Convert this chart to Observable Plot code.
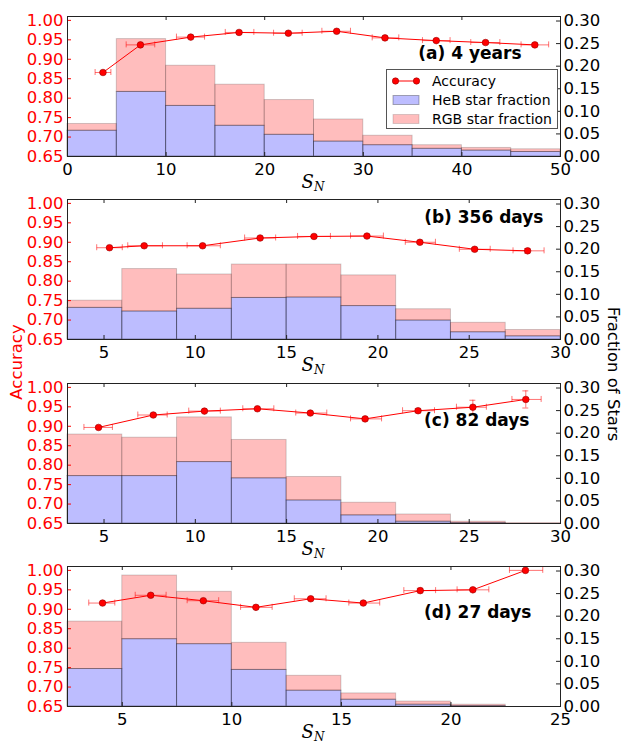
<!DOCTYPE html>
<html><head><meta charset="utf-8">
<script src="https://cdn.jsdelivr.net/npm/d3@7"></script>
<script src="https://cdn.jsdelivr.net/npm/@observablehq/plot@0.6"></script>
<style>
body{margin:0;background:#fff;}
#wrap{position:relative;width:624px;height:743px;font-family:"DejaVu Sans",sans-serif;overflow:hidden;}
#wrap svg.plotsvg{position:absolute;left:0;overflow:visible;}
.sn{position:absolute;font-family:"DejaVu Serif",serif;font-style:italic;font-size:18px;line-height:20px;transform:translate(-50%,-50%);white-space:nowrap;}
.sn sub{font-size:12px;line-height:12px;vertical-align:-3px;}
.rot{position:absolute;font-size:16.5px;white-space:nowrap;transform-origin:center center;}
#legend{position:absolute;left:386px;top:69px;width:172px;height:60px;border:1px solid #555;background:#fff;box-sizing:border-box;font-size:14px;}
#legend .row{position:absolute;left:5px;height:19px;display:flex;align-items:center;}
#legend .row span{margin-left:12px;}
</style></head><body><div id="wrap"></div>
<script>
// ---------- data ----------
const panelLabels = ["(a) 4 years", "(b) 356 days", "(c) 82 days", "(d) 27 days"];
const xDomains = [[0, 50], [3, 30], [3, 30], [2.5, 25]];
const xTicks = [[0, 10, 20, 30, 40, 50], [5, 10, 15, 20, 25, 30], [5, 10, 15, 20, 25, 30], [5, 10, 15, 20, 25]];
const binWidths = [5, 3, 3, 2.5];
const accTicks = [0.65, 0.70, 0.75, 0.80, 0.85, 0.90, 0.95, 1.00];
const fracTicks = [0.00, 0.05, 0.10, 0.15, 0.20, 0.25, 0.30];

// (a) 4 years
const binStartA = [0, 5, 10, 15, 20, 25, 30, 35, 40, 45];
const hebA = [0.057, 0.143, 0.112, 0.068, 0.048, 0.033, 0.025, 0.017, 0.013, 0.010];
const rgbA = [0.015, 0.117, 0.089, 0.091, 0.077, 0.049, 0.021, 0.008, 0.006, 0.006];
const accXA = [3.6, 7.4, 12.5, 17.4, 22.4, 27.3, 32.2, 37.4, 42.4, 47.4];
const accA = [0.866, 0.937, 0.957, 0.969, 0.967, 0.972, 0.955, 0.948, 0.943, 0.937];
const accLoA = [2.8, 5.95, 11.05, 16.0, 20.9, 25.8, 30.9, 36.0, 40.9, 46.0];
const accHiA = [4.4, 8.85, 13.9, 18.9, 23.8, 28.7, 33.6, 38.8, 43.85, 48.8];
const accErrA = [0.002, 0.002, 0.002, 0.001, 0.001, 0.001, 0.002, 0.002, 0.003, 0.004];

// (b) 356 days
const binStartB = [3, 6, 9, 12, 15, 18, 21, 24, 27];
const hebB = [0.070, 0.062, 0.068, 0.092, 0.093, 0.074, 0.042, 0.016, 0.007];
const rgbB = [0.016, 0.094, 0.076, 0.074, 0.073, 0.068, 0.025, 0.021, 0.014];
const accXB = [5.3, 7.2, 10.4, 13.55, 16.5, 19.4, 22.3, 25.3, 28.2];
const accB = [0.886, 0.891, 0.891, 0.911, 0.915, 0.916, 0.900, 0.882, 0.878];
const accLoB = [4.6, 6.3, 9.55, 12.7, 15.6, 18.5, 21.5, 24.46, 27.4];
const accHiB = [6.0, 8.2, 11.37, 14.4, 17.4, 20.3, 23.15, 26.15, 29.1];
const accErrB = [0.002, 0.002, 0.002, 0.002, 0.002, 0.002, 0.003, 0.004, 0.006];

// (c) 82 days
const binStartC = [3, 6, 9, 12, 15, 18, 21, 24, 27];
const hebC = [0.105, 0.105, 0.136, 0.100, 0.051, 0.018, 0.004, 0.001, 0.000];
const rgbC = [0.092, 0.085, 0.099, 0.085, 0.052, 0.028, 0.016, 0.003, 0.001];
const accXC = [4.7, 7.7, 10.5, 13.4, 16.3, 19.3, 22.2, 25.2, 28.1];
const accC = [0.897, 0.929, 0.939, 0.945, 0.934, 0.919, 0.940, 0.949, 0.969];
const accLoC = [3.9, 6.85, 9.64, 12.6, 15.5, 18.5, 21.35, 24.3, 27.34];
const accHiC = [5.46, 8.46, 11.37, 14.3, 17.2, 20.2, 23.1, 25.94, 28.94];
const accErrC = [0.002, 0.003, 0.002, 0.002, 0.002, 0.003, 0.005, 0.018, 0.022];

// (d) 27 days
const binStartD = [2.5, 5, 7.5, 10, 12.5, 15, 17.5, 20, 22.5];
const hebD = [0.083, 0.149, 0.138, 0.081, 0.035, 0.015, 0.004, 0.001, 0.000];
const rgbD = [0.105, 0.141, 0.116, 0.060, 0.033, 0.014, 0.007, 0.003, 0.000];
const accXD = [4.1, 6.3, 8.7, 11.1, 13.6, 16.0, 18.6, 21.0, 23.4];
const accD = [0.916, 0.936, 0.922, 0.905, 0.927, 0.916, 0.948, 0.950, 1.000];
const accLoD = [3.47, 5.59, 7.96, 10.4, 12.85, 15.34, 17.85, 20.28, 22.67];
const accHiD = [4.66, 7.0, 9.4, 11.84, 14.3, 16.75, 19.3, 21.73, 24.19];
const accErrD = [0.002, 0.003, 0.002, 0.002, 0.002, 0.002, 0.006, 0.002, 0.002];

const panels = [
  {starts: binStartA, heb: hebA, rgb: rgbA, ax: accXA, acc: accA, lo: accLoA, hi: accHiA, err: accErrA},
  {starts: binStartB, heb: hebB, rgb: rgbB, ax: accXB, acc: accB, lo: accLoB, hi: accHiB, err: accErrB},
  {starts: binStartC, heb: hebC, rgb: rgbC, ax: accXC, acc: accC, lo: accLoC, hi: accHiC, err: accErrC},
  {starts: binStartD, heb: hebD, rgb: rgbD, ax: accXD, acc: accD, lo: accLoD, hi: accHiD, err: accErrD}
];

// ---------- layout ----------
const W = 624, ML = 67, MR = 64, MT = 16, FH = 140;
const PW = W - ML - MR;
const svgTops = [0, 183.3, 367.3, 550];
const svgHeights = [183, 184, 183, 193];
const labelOffsets = [[-39, 37], [-17, 18], [-31, 37], [-29, 46]];
const accDom = [0.65, 1.01], fracDom = [0, 0.31];
const toFrac = a => (a - accDom[0]) / (accDom[1] - accDom[0]) * (fracDom[1] - fracDom[0]);
const fromFrac = f => accDom[0] + f / (fracDom[1] - fracDom[0]) * (accDom[1] - accDom[0]);

const wrap = document.getElementById("wrap");

panels.forEach((p, k) => {
  const bw = binWidths[k];
  const xd = xDomains[k];
  const bins = p.starts.map((s, i) => ({x1: s, x2: s + bw, heb: p.heb[i], tot: p.heb[i] + p.rgb[i]}));
  const pts = p.ax.map((x, i) => ({
    x, y: toFrac(p.acc[i]), lo: p.lo[i], hi: p.hi[i],
    ylo: toFrac(p.acc[i] - p.err[i]), yhi: toFrac(p.acc[i] + p.err[i])
  }));
  const capY = 3 * (fracDom[1] - fracDom[0]) / FH;
  const capX = 3 * (xd[1] - xd[0]) / PW;
  const H = svgHeights[k];
  const errStyle = {stroke: "red", strokeOpacity: 0.55, strokeWidth: 1};
  const chart = Plot.plot({
    width: W, height: H,
    marginLeft: ML, marginRight: MR, marginTop: MT, marginBottom: H - MT - FH,
    x: {domain: xd},
    y: {domain: fracDom},
    style: {fontFamily: "DejaVu Sans", fontSize: "16.5px", background: "transparent", overflow: "visible"},
    marks: [
      Plot.rect(bins, {x1: "x1", x2: "x2", y1: 0, y2: "heb", fill: "blue", fillOpacity: 0.26, stroke: "black", strokeOpacity: 0.35}),
      Plot.rect(bins, {x1: "x1", x2: "x2", y1: "heb", y2: "tot", fill: "red", fillOpacity: 0.26, stroke: "black", strokeOpacity: 0.18}),
      Plot.link(pts, {x1: "lo", x2: "hi", y1: "y", y2: "y", ...errStyle}),
      Plot.ruleX(pts, {x: "lo", y1: d => d.y - capY, y2: d => d.y + capY, ...errStyle}),
      Plot.ruleX(pts, {x: "hi", y1: d => d.y - capY, y2: d => d.y + capY, ...errStyle}),
      Plot.ruleX(pts, {x: "x", y1: "ylo", y2: "yhi", ...errStyle}),
      Plot.ruleY(pts, {y: "ylo", x1: d => d.x - capX, x2: d => d.x + capX, ...errStyle}),
      Plot.ruleY(pts, {y: "yhi", x1: d => d.x - capX, x2: d => d.x + capX, ...errStyle}),
      Plot.line(pts, {x: "x", y: "y", stroke: "red", strokeWidth: 1}),
      Plot.dot(pts, {x: "x", y: "y", r: 3.3, fill: "red", stroke: "#900", strokeWidth: 0.6}),
      Plot.tickX(xTicks[k], {x: d => d, insetTop: FH - 4, stroke: "#222"}),
      Plot.tickX(xTicks[k], {x: d => d, insetBottom: FH - 4, stroke: "#222"}),
      Plot.tickY(accTicks.map(toFrac), {y: d => d, insetRight: PW - 4, stroke: "red"}),
      Plot.tickY(fracTicks, {y: d => d, insetLeft: PW - 4, stroke: "#222"}),
      Plot.frame({stroke: "#222", strokeWidth: 1}),
      Plot.axisX({ticks: xTicks[k], tickSize: 0, tickPadding: 7, tickFormat: d => String(d), label: null}),
      Plot.axisY({anchor: "left", ticks: accTicks.map(toFrac), tickSize: 0, tickPadding: 4, color: "red",
                  tickFormat: f => fromFrac(f).toFixed(2), label: null}),
      Plot.axisY({anchor: "right", ticks: fracTicks, tickSize: 0, tickPadding: 3,
                  tickFormat: d => d.toFixed(2), label: null}),
      Plot.text([panelLabels[k]], {text: d => d, frameAnchor: "top-right", textAnchor: "end", lineAnchor: "middle",
                  dx: labelOffsets[k][0], dy: labelOffsets[k][1], fontWeight: "bold", fontSize: 17, fill: "black"})
    ]
  });
  chart.classList.add("plotsvg");
  chart.style.top = svgTops[k] + "px";
  wrap.appendChild(chart);

  const sn = document.createElement("div");
  sn.className = "sn";
  sn.innerHTML = "S<sub>N</sub>";
  sn.style.left = (ML + PW / 2 - 0.5) + "px";
  sn.style.top = (svgTops[k] + MT + FH + 26) + "px";
  wrap.appendChild(sn);
});

// axis titles
const acc = document.createElement("div");
acc.className = "rot";
acc.textContent = "Accuracy";
acc.style.color = "red";
acc.style.left = "16px"; acc.style.top = "362px";
acc.style.transform = "translate(-50%,-50%) rotate(-90deg)";
wrap.appendChild(acc);

const fr = document.createElement("div");
fr.className = "rot";
fr.textContent = "Fraction of Stars";
fr.style.left = "613px"; fr.style.top = "374px";
fr.style.transform = "translate(-50%,-50%) rotate(90deg)";
wrap.appendChild(fr);

// legend (panel a)
const lg = document.createElement("div");
lg.id = "legend";
lg.innerHTML =
  '<div class="row" style="top:1px"><svg width="28" height="10"><line x1="3.5" y1="5" x2="24.5" y2="5" stroke="red" stroke-width="1"/><circle cx="3.5" cy="5" r="3.2" fill="red" stroke="#900" stroke-width="0.6"/><circle cx="24.5" cy="5" r="3.2" fill="red" stroke="#900" stroke-width="0.6"/></svg><span>Accuracy</span></div>' +
  '<div class="row" style="top:20px"><svg width="28" height="10"><rect x="1" y="0.5" width="26" height="9" fill="rgba(0,0,255,0.26)" stroke="rgba(0,0,0,0.3)"/></svg><span>HeB star fraction</span></div>' +
  '<div class="row" style="top:39px"><svg width="28" height="10"><rect x="1" y="0.5" width="26" height="9" fill="rgba(255,0,0,0.26)" stroke="rgba(0,0,0,0.15)"/></svg><span>RGB star fraction</span></div>';
wrap.appendChild(lg);
</script></body></html>
